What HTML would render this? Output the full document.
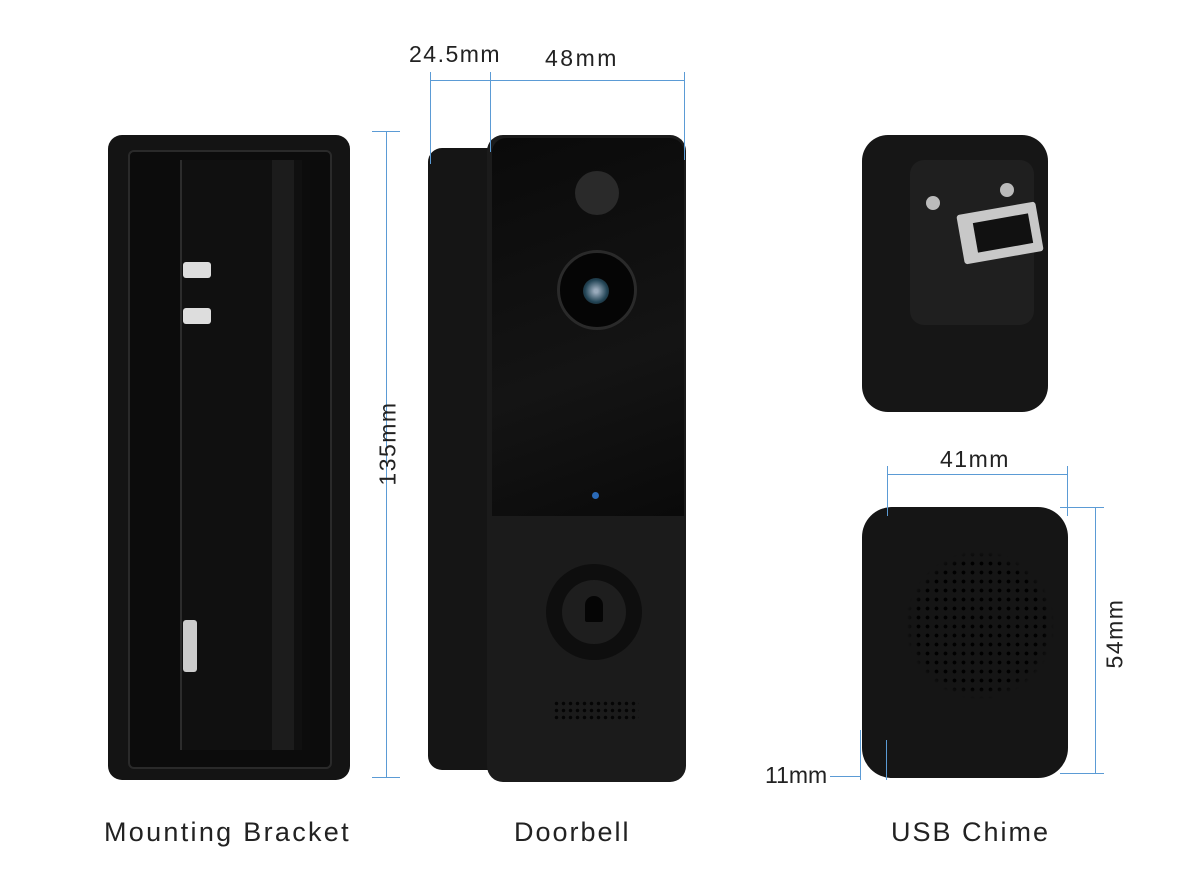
<!DOCTYPE html>
<html><head><meta charset="utf-8"><style>
body{margin:0;width:1204px;height:894px;background:#fff;position:relative;overflow:hidden;font-family:"Liberation Sans",sans-serif}
.a{position:absolute}
.t{position:absolute;font-size:27px;color:#222;white-space:nowrap;letter-spacing:2px}
.d{position:absolute;font-size:23px;color:#222;white-space:nowrap;letter-spacing:1.5px}
.bl{position:absolute;background:#5b9bd5}
</style></head><body>
<!-- bracket -->
<div class="a" style="left:108px;top:135px;width:242px;height:645px;background:#141414;border-radius:14px"></div>
<div class="a" style="left:128px;top:150px;width:200px;height:615px;background:#0c0c0c;border:2px solid #2a2a2a;border-radius:6px"></div>
<div class="a" style="left:180px;top:160px;width:120px;height:590px;background:#101010;border-left:2px solid #2c2c2c"></div>
<div class="a" style="left:272px;top:160px;width:22px;height:590px;background:#1c1c1c"></div>
<div class="a" style="left:183px;top:262px;width:28px;height:16px;background:#ddd;border-radius:3px"></div>
<div class="a" style="left:183px;top:308px;width:28px;height:16px;background:#ddd;border-radius:3px"></div>
<div class="a" style="left:183px;top:620px;width:14px;height:52px;background:#ccc;border-radius:3px"></div>
<!-- 135 dim -->
<div class="bl" style="left:386px;top:131px;width:1px;height:646px"></div>
<div class="bl" style="left:372px;top:131px;width:28px;height:1px"></div>
<div class="bl" style="left:372px;top:777px;width:28px;height:1px"></div>
<div class="d" style="left:346px;top:430px;transform:rotate(-90deg)">135mm</div>
<!-- doorbell -->
<div class="a" style="left:428px;top:148px;width:80px;height:622px;background:#151515;border-radius:14px"></div>
<div class="a" style="left:487px;top:135px;width:199px;height:647px;background:#1b1b1b;border-radius:16px"></div>
<div class="a" style="left:492px;top:138px;width:192px;height:378px;background:linear-gradient(160deg,#0a0a0a,#141414 60%,#0a0a0a);border-radius:14px 14px 0 0"></div>
<div class="a" style="left:575px;top:171px;width:44px;height:44px;background:#2a2a2a;border-radius:50%"></div>
<div class="a" style="left:557px;top:250px;width:80px;height:80px;background:#050505;border-radius:50%;border:3px solid #2a2a2a;box-sizing:border-box"></div>
<div class="a" style="left:583px;top:278px;width:26px;height:26px;background:radial-gradient(circle,#9ab 10%,#245 60%,#111);border-radius:50%"></div>
<div class="a" style="left:592px;top:492px;width:7px;height:7px;background:#2a6ab8;border-radius:50%"></div>
<div class="a" style="left:546px;top:564px;width:96px;height:96px;background:#0e0e0e;border-radius:50%"></div>
<div class="a" style="left:562px;top:580px;width:64px;height:64px;background:#1e1e1e;border-radius:50%"></div>
<div class="a" style="left:585px;top:596px;width:18px;height:26px;background:#050505;border-radius:9px 9px 2px 2px"></div>
<div class="a" style="left:553px;top:700px;width:86px;height:22px;background:radial-gradient(circle,#050505 1.5px,transparent 2px) 0 0/7px 7px"></div>
<!-- top dims -->
<div class="bl" style="left:430px;top:72px;width:1px;height:92px"></div>
<div class="bl" style="left:490px;top:72px;width:1px;height:80px"></div>
<div class="bl" style="left:684px;top:72px;width:1px;height:88px"></div>
<div class="bl" style="left:430px;top:80px;width:254px;height:1px"></div>
<div class="d" style="left:409px;top:41px">24.5mm</div>
<div class="d" style="left:545px;top:45px;letter-spacing:2.5px">48mm</div>
<!-- chime top -->
<div class="a" style="left:862px;top:135px;width:186px;height:277px;background:#161616;border-radius:26px"></div>
<div class="a" style="left:910px;top:160px;width:124px;height:165px;background:#1f1f1f;border-radius:14px"></div>
<div class="a" style="left:926px;top:196px;width:14px;height:14px;background:#bbb;border-radius:50%"></div>
<div class="a" style="left:1000px;top:183px;width:14px;height:14px;background:#bbb;border-radius:50%"></div>
<div class="a" style="left:960px;top:208px;width:80px;height:50px;background:#c8c8c8;transform:rotate(-10deg);border-radius:3px"></div>
<div class="a" style="left:975px;top:218px;width:56px;height:30px;background:#111;transform:rotate(-10deg)"></div>
<!-- chime bottom -->
<div class="a" style="left:862px;top:507px;width:206px;height:271px;background:#151515;border-radius:30px"></div>
<div class="a" style="left:905px;top:550px;width:150px;height:150px;border-radius:50%;background:radial-gradient(circle,#000 1.6px,transparent 2.2px) 0 0/9px 9px;-webkit-mask:radial-gradient(circle,#000 60%,transparent 70%);mask:radial-gradient(circle,#000 60%,transparent 70%)"></div>
<div class="bl" style="left:887px;top:466px;width:1px;height:50px"></div>
<div class="bl" style="left:1067px;top:466px;width:1px;height:50px"></div>
<div class="bl" style="left:887px;top:474px;width:180px;height:1px"></div>
<div class="d" style="left:940px;top:446px">41mm</div>
<div class="bl" style="left:1095px;top:507px;width:1px;height:266px"></div>
<div class="bl" style="left:1060px;top:507px;width:44px;height:1px"></div>
<div class="bl" style="left:1060px;top:773px;width:44px;height:1px"></div>
<div class="d" style="left:1080px;top:620px;transform:rotate(-90deg)">54mm</div>
<div class="bl" style="left:860px;top:730px;width:1px;height:50px"></div>
<div class="bl" style="left:886px;top:740px;width:1px;height:40px"></div>
<div class="bl" style="left:830px;top:776px;width:30px;height:1px"></div>
<div class="d" style="left:765px;top:762px;letter-spacing:0">11mm</div>
<!-- labels -->
<div class="t" style="left:104px;top:817px;letter-spacing:2.3px">Mounting Bracket</div>
<div class="t" style="left:514px;top:817px">Doorbell</div>
<div class="t" style="left:891px;top:817px">USB Chime</div>
</body></html>
